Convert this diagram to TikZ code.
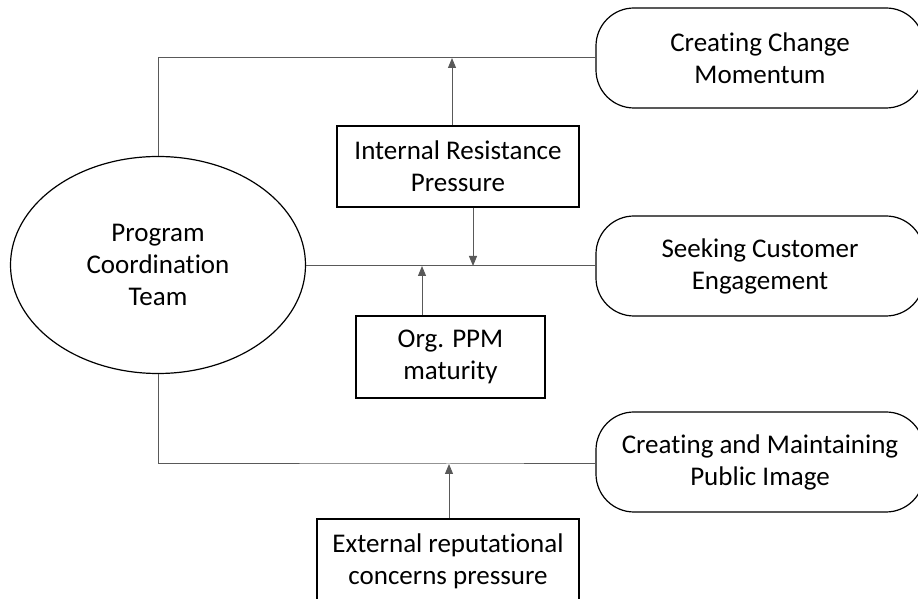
\documentclass[tikz,border=0pt]{standalone}
\usepackage{fontspec}
\setmainfont{Carlito}[Ligatures=NoCommon]
\usetikzlibrary{shapes.geometric,arrows.meta}

\tikzset{
  lbl/.style={font=\fontsize{27}{32}\selectfont, align=center, inner sep=0pt},
  team/.style={lbl, ellipse, draw, line width=1.2pt, minimum width=295pt, minimum height=217pt},
  goal/.style={lbl, draw, line width=1.2pt, rounded corners=38pt, minimum width=328pt, minimum height=100pt},
  force/.style={lbl, draw, line width=1.2pt, rectangle},
  link/.style={draw=black!65, line width=1pt},
  arr/.style={link, -{Triangle[length=10pt,width=8pt]}}
}

\begin{document}
\begin{tikzpicture}[x=1pt,y=1pt]
	\useasboundingbox (0,0) rectangle (918,599);
	% actor and goals
	\node[team] (pct) at (158,334) {Program\\Coordination\\Team};
	\node[goal] (change) at (760,541) {Creating Change\\Momentum};
	\node[goal] (cust) at (760,333) {Seeking Customer\\Engagement};
	\node[goal] (image) at (760,137) {Creating and Maintaining\\Public Image};
	% pressures
	\node[force, minimum width=242pt, minimum height=81pt] (resist) at (458,432.5) {Internal Resistance\\Pressure};
	\node[force, minimum width=189pt, minimum height=82pt] (ppm) at (450.5,242) {Org. PPM\\maturity};
	\node[force, minimum width=262pt, minimum height=84pt] (ext) at (448,38) {External reputational\\concerns pressure};
	% points on the links
	\coordinate (t1) at (452,541);
	\coordinate (m1) at (473,333);
	\coordinate (m2) at (422,333);
	\coordinate (b1) at (449,135);
	% links
	\draw[link] (pct.north) |- (change.west);
	\draw[link] (pct.east |- cust.west) -- (cust.west);
	\draw[link] (pct.south) |- (b1) -- (b1 -| image.west);
	\draw[arr] (resist.north -| t1) -- (t1);
	\draw[arr] (resist.south -| m1) -- (m1);
	\draw[arr] (ppm.north -| m2) -- (m2);
	\draw[arr] (ext.north -| b1) -- (b1);
\end{tikzpicture}
\end{document}
